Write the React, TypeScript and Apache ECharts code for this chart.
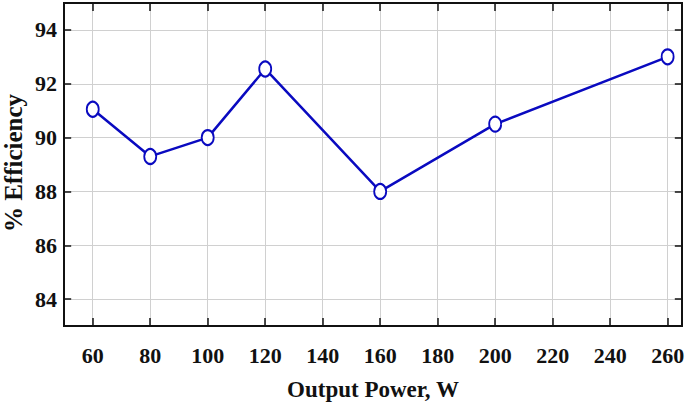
import React, { useEffect, useRef } from "react";
import * as echarts from "echarts";

const powers = [60, 80, 100, 120, 160, 200, 260];
const efficiency = [91.05, 89.3, 90.0, 92.55, 88.0, 90.5, 93.0];
const xTicks = [60, 80, 100, 120, 140, 160, 180, 200, 220, 240, 260];
const yTicks = [84, 86, 88, 90, 92, 94];
const yTitle = "% Efficiency";

const font = "'Liberation Serif', 'Times New Roman', serif";

export default function App() {
  const ref = useRef<HTMLDivElement>(null);
  useEffect(() => {
    const chart = echarts.init(ref.current!, null, { renderer: "svg" });
    const labelStyle = { fontFamily: font, fontWeight: "bold" as const, fontSize: 22, color: "#111" };
    chart.setOption({
      animation: false,
      backgroundColor: "#fff",
      grid: {
        left: 64,
        right: 3,
        top: 3,
        bottom: 87,
        outerBoundsMode: "none",
        containLabel: false,
      },
      xAxis: {
        type: "value",
        min: 50,
        max: 265,
        interval: 10,
        name: "Output Power, W",
        nameLocation: "middle",
        nameGap: 52,
        nameTextStyle: { fontFamily: font, fontWeight: "bold", fontSize: 23, color: "#111" },
        axisLine: { show: true, lineStyle: { color: "#111", width: 2 } },
        axisTick: { show: false },
        axisLabel: {
          ...labelStyle,
          margin: 18,
          showMaxLabel: true,
          formatter: (v: number) => (xTicks.includes(v) ? String(v) : ""),
        },
        splitLine: { show: false },
      },
      yAxis: {
        type: "value",
        min: 83,
        max: 95,
        interval: 1,
        axisLine: { show: true, lineStyle: { color: "#111", width: 2 } },
        axisTick: { show: false },
        axisLabel: {
          ...labelStyle,
          margin: 7,
          formatter: (v: number) => (yTicks.includes(v) ? String(v) : ""),
        },
        splitLine: { show: false },
      },
      series: [
        {
          type: "line",
          data: [],
          markLine: {
            silent: true,
            symbol: "none",
            label: { show: false },
            lineStyle: { color: "#d0d0d0", width: 1, type: "solid" },
            data: [
              ...xTicks.map((v) => ({ xAxis: v })),
              ...yTicks.map((v) => ({ yAxis: v })),
            ],
          },
        },
        {
          type: "line",
          data: [],
          markLine: {
            silent: true,
            symbol: "none",
            label: { show: false },
            lineStyle: { color: "#111", width: 1.5, type: "solid" },
            data: [
              ...xTicks.map((v) => [{ coord: [v, 83] }, { coord: [v, 83.3] }]),
              ...xTicks.map((v) => [{ coord: [v, 95] }, { coord: [v, 94.7] }]),
              ...yTicks.map((v) => [{ coord: [50, v] }, { coord: [52.5, v] }]),
              ...yTicks.map((v) => [{ coord: [265, v] }, { coord: [262.5, v] }]),
            ],
          },
        },
        {
          type: "line",
          data: powers.map((p, i) => [p, efficiency[i]]),
          symbol: "emptyCircle",
          symbolSize: [12, 15],
          lineStyle: { color: "#0a0ac0", width: 2.5 },
          itemStyle: { color: "#0a0ac0", borderColor: "#0a0ac0", borderWidth: 2.5 },
          z: 5,
        },
      ],
    });
    const p0 = chart.convertToPixel({ gridIndex: 0 }, [50, 83]) as number[];
    const p1 = chart.convertToPixel({ gridIndex: 0 }, [265, 95]) as number[];
    chart.setOption({
      graphic: [
        {
          type: "rect",
          shape: { x: p0[0], y: p1[1], width: p1[0] - p0[0], height: p0[1] - p1[1] },
          style: { fill: "none", stroke: "#111", lineWidth: 2 },
          silent: true,
          z: 10,
        },
        {
          type: "text",
          x: 13,
          y: 163,
          rotation: Math.PI / 2,
          silent: true,
          style: {
            text: yTitle,
            fontFamily: font,
            fontWeight: "bold",
            fontSize: 25,
            fill: "#111",
            align: "center",
            verticalAlign: "middle",
          },
        },
      ],
    });
    return () => chart.dispose();
  }, []);
  return (
    <div
      ref={ref}
      style={{ position: "fixed", left: 0, top: 0, width: 685, height: 413 }}
    />
  );
}
